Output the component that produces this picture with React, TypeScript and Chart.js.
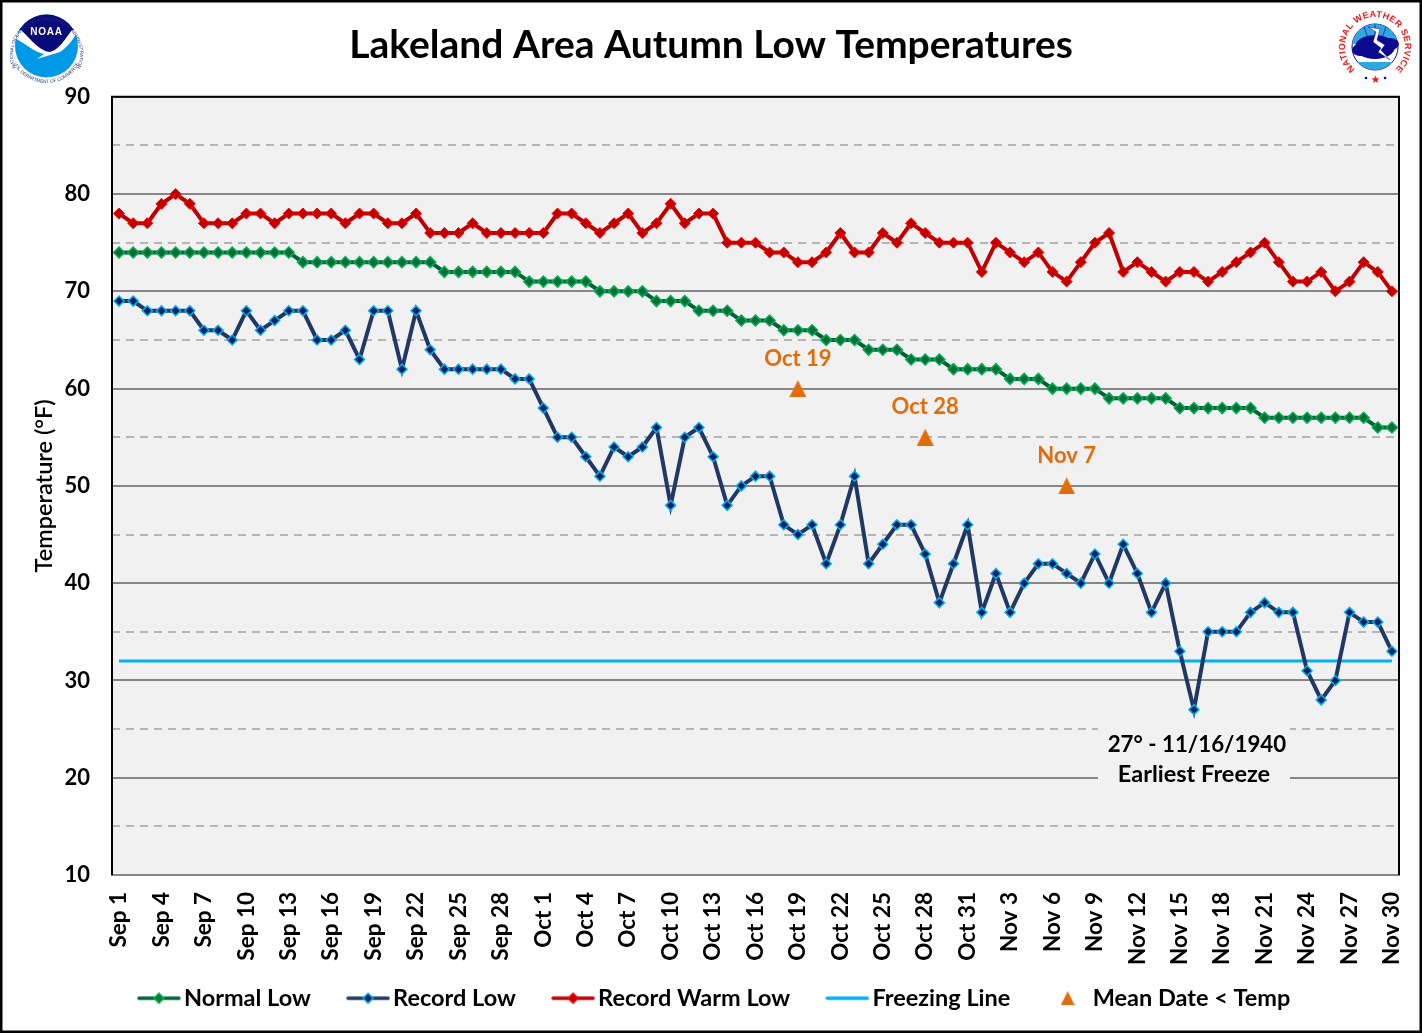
import React, { useEffect, useRef } from "react";
import { Chart, registerables } from "chart.js";

Chart.register(...registerables);

const FONT = "Lato";

const days = [
  "Sep 1", "Sep 2", "Sep 3", "Sep 4", "Sep 5", "Sep 6", "Sep 7", "Sep 8", "Sep 9", "Sep 10",
  "Sep 11", "Sep 12", "Sep 13", "Sep 14", "Sep 15", "Sep 16", "Sep 17", "Sep 18", "Sep 19", "Sep 20",
  "Sep 21", "Sep 22", "Sep 23", "Sep 24", "Sep 25", "Sep 26", "Sep 27", "Sep 28", "Sep 29", "Sep 30",
  "Oct 1", "Oct 2", "Oct 3", "Oct 4", "Oct 5", "Oct 6", "Oct 7", "Oct 8", "Oct 9", "Oct 10",
  "Oct 11", "Oct 12", "Oct 13", "Oct 14", "Oct 15", "Oct 16", "Oct 17", "Oct 18", "Oct 19", "Oct 20",
  "Oct 21", "Oct 22", "Oct 23", "Oct 24", "Oct 25", "Oct 26", "Oct 27", "Oct 28", "Oct 29", "Oct 30", "Oct 31",
  "Nov 1", "Nov 2", "Nov 3", "Nov 4", "Nov 5", "Nov 6", "Nov 7", "Nov 8", "Nov 9", "Nov 10",
  "Nov 11", "Nov 12", "Nov 13", "Nov 14", "Nov 15", "Nov 16", "Nov 17", "Nov 18", "Nov 19", "Nov 20",
  "Nov 21", "Nov 22", "Nov 23", "Nov 24", "Nov 25", "Nov 26", "Nov 27", "Nov 28", "Nov 29", "Nov 30",
];

const normalLow = [
  74, 74, 74, 74, 74, 74, 74, 74, 74, 74, 74, 74, 74,
  73, 73, 73, 73, 73, 73, 73, 73, 73, 73,
  72, 72, 72, 72, 72, 72,
  71, 71, 71, 71, 71,
  70, 70, 70, 70,
  69, 69, 69, 68, 68, 68, 67, 67, 67, 66, 66, 66,
  65, 65, 65, 64, 64, 64, 63, 63, 63,
  62, 62, 62, 62, 61, 61, 61,
  60, 60, 60, 60, 59, 59, 59, 59, 59,
  58, 58, 58, 58, 58, 58,
  57, 57, 57, 57, 57, 57, 57, 57, 56, 56,
];

const recordLow = [
  69, 69, 68, 68, 68, 68, 66, 66, 65, 68,
  66, 67, 68, 68, 65, 65, 66, 63, 68, 68,
  62, 68, 64, 62, 62, 62, 62, 62, 61, 61,
  58, 55, 55, 53, 51, 54, 53, 54, 56, 48,
  55, 56, 53, 48, 50, 51, 51, 46, 45, 46,
  42, 46, 51, 42, 44, 46, 46, 43, 38, 42, 46,
  37, 41, 37, 40, 42, 42, 41, 40, 43, 40,
  44, 41, 37, 40, 33, 27, 35, 35, 35, 37,
  38, 37, 37, 31, 28, 30, 37, 36, 36, 33,
];

const recordWarmLow = [
  78, 77, 77, 79, 80, 79, 77, 77, 77, 78,
  78, 77, 78, 78, 78, 78, 77, 78, 78, 77,
  77, 78, 76, 76, 76, 77, 76, 76, 76, 76,
  76, 78, 78, 77, 76, 77, 78, 76, 77, 79,
  77, 78, 78, 75, 75, 75, 74, 74, 73, 73,
  74, 76, 74, 74, 76, 75, 77, 76, 75, 75, 75,
  72, 75, 74, 73, 74, 72, 71, 73, 75, 76,
  72, 73, 72, 71, 72, 72, 71, 72, 73, 74,
  75, 73, 71, 71, 72, 70, 71, 73, 72, 70,
];

const freezingLine = days.map(() => 32);

// mean date the low drops under a temperature
const meanDates = ["Oct 19", "Oct 28", "Nov 7"];
const meanTemps = [60, 55, 50];

const freezeNote = ["27° - 11/16/1940", "Earliest Freeze"];
const freezeDay = "Nov 16";

const GREEN = "#006437";
const NAVY = "#1f3864";
const RED = "#c00000";
const CYAN = "#00b0f0";
const ORANGE = "#e36c0a";

function legendMarker(line: string, fill?: string, edge?: string) {
  const c = document.createElement("canvas");
  c.width = 44;
  c.height = 14;
  const g = c.getContext("2d")!;
  g.strokeStyle = line;
  g.lineWidth = 3.5;
  g.lineCap = "round";
  g.beginPath();
  g.moveTo(2, 7);
  g.lineTo(42, 7);
  g.stroke();
  if (fill) {
    g.fillStyle = fill;
    g.strokeStyle = edge || fill;
    g.lineWidth = 1.5;
    g.beginPath();
    g.moveTo(22, 2);
    g.lineTo(27, 7);
    g.lineTo(22, 12);
    g.lineTo(17, 7);
    g.closePath();
    g.fill();
    g.stroke();
  }
  return c;
}

function triangleMarker(size: number) {
  const c = document.createElement("canvas");
  c.width = size;
  c.height = size;
  const g = c.getContext("2d")!;
  g.fillStyle = ORANGE;
  g.beginPath();
  g.moveTo(size / 2, 0);
  g.lineTo(size, size);
  g.lineTo(0, size);
  g.closePath();
  g.fill();
  return c;
}

const plotDecor = {
  id: "plotDecor",
  afterLayout(chart: any) {
    // legend sits a little right of the title's centre
    chart.legend.left += 7;
    chart.legend.right += 7;
  },
  beforeDraw(chart: any) {
    const { ctx, chartArea: a } = chart;
    ctx.save();
    ctx.fillStyle = "#f1f1f1";
    ctx.fillRect(a.left, a.top, a.right - a.left, a.bottom - a.top);
    ctx.restore();
  },
  beforeDatasetsDraw(chart: any) {
    // the note sits on a patch that hides the grid behind it
    const { ctx, scales } = chart;
    const cx = scales.x.getPixelForValue(days.indexOf(freezeDay));
    ctx.save();
    ctx.fillStyle = "#f1f1f1";
    ctx.fillRect(cx - 96, scales.y.getPixelForValue(25.6), 192, scales.y.getPixelForValue(19) - scales.y.getPixelForValue(25.6));
    ctx.restore();
  },
  afterDatasetsDraw(chart: any) {
    const { ctx, chartArea: a, scales } = chart;
    ctx.save();
    ctx.textAlign = "center";
    ctx.textBaseline = "middle";

    ctx.fillStyle = ORANGE;
    ctx.font = `bold 22px ${FONT}`;
    meanDates.forEach((d, i) => {
      const x = scales.x.getPixelForValue(days.indexOf(d));
      ctx.fillText(d, x, scales.y.getPixelForValue(meanTemps[i]) - 30);
    });

    ctx.fillStyle = "#000";
    const cx = scales.x.getPixelForValue(days.indexOf(freezeDay));
    ctx.font = `bold 22.3px ${FONT}`;
    ctx.fillText(freezeNote[0], cx + 3, scales.y.getPixelForValue(23.4));
    ctx.font = `bold 23.5px ${FONT}`;
    ctx.fillText(freezeNote[1], cx, scales.y.getPixelForValue(20.3));

    // plot frame: black on three sides, the bottom stays axis grey
    ctx.strokeStyle = "#000";
    ctx.lineWidth = 2;
    ctx.beginPath();
    ctx.moveTo(a.left, a.bottom);
    ctx.lineTo(a.left, a.top);
    ctx.lineTo(a.right, a.top);
    ctx.lineTo(a.right, a.bottom);
    ctx.stroke();
    ctx.restore();
  },
  afterDraw(chart: any) {
    const { ctx, width, height } = chart;
    ctx.save();
    ctx.strokeStyle = "#000";
    ctx.lineWidth = 3;
    ctx.strokeRect(1, 1, width - 2, height - 2);
    ctx.restore();
  },
};

const NoaaLogo = () => (
  <svg width="94" height="94" viewBox="0 0 94 94" style={{ position: "absolute", left: 0, top: 0 }}>
    <defs>
      <clipPath id="noaaClip">
        <circle cx="46.5" cy="46" r="31.5" />
      </clipPath>
      <path id="noaaTop" d="M 17 70 A 33.5 33.5 0 1 1 76 70" fill="none" />
      <path id="noaaBottom" d="M 13.1 62 A 37 37 0 0 0 79.9 62" fill="none" />
    </defs>
    <circle cx="46.5" cy="46" r="31.5" fill="#0099e8" />
    <g clipPath="url(#noaaClip)">
      <path d="M 10 10 L 84 10 L 84 28 L 72 30 C 66 38 58 51 50 52 C 41 52 30 39 21 30 L 10 28 Z" fill="#0a0a78" />
      <path d="M 14 38 L 21 30 C 30 39 41 52 50 52 C 58 51 66 38 72 30 L 79 30 C 73 40 66 48 60 52 L 37 59 L 44 54 C 34 52 24 42 14 38 Z" fill="#fff" />
    </g>
    <text x="46.5" y="35" textAnchor="middle" fill="#fff" fontFamily="Liberation Sans" fontWeight="bold" fontSize="10" letterSpacing="0.8">NOAA</text>
    <text fontFamily="Liberation Sans" fontSize="4.7" fill="#1c2f80">
      <textPath href="#noaaTop" startOffset="50%" textAnchor="middle">NATIONAL OCEANIC AND ATMOSPHERIC ADMINISTRATION</textPath>
    </text>
    <text fontFamily="Liberation Sans" fontSize="4.7" fill="#1c2f80">
      <textPath href="#noaaBottom" startOffset="50%" textAnchor="middle">U.S. DEPARTMENT OF COMMERCE</textPath>
    </text>
  </svg>
);

const NwsLogo = () => (
  <svg width="94" height="94" viewBox="0 0 94 94" style={{ position: "absolute", left: 1328, top: 0 }}>
    <defs>
      <clipPath id="nwsClip">
        <circle cx="47" cy="47" r="23" />
      </clipPath>
      <path id="nwsRing" d="M 32 73 A 30 30 0 1 1 62 73" fill="none" />
    </defs>
    <circle cx="47" cy="47" r="23" fill="#fff" stroke="#0a0a90" strokeWidth="1" />
    <g clipPath="url(#nwsClip)">
      <rect x="20" y="22" width="54" height="22" fill="#2fa8e0" />
      <rect x="20" y="62" width="54" height="12" fill="#2fa8e0" />
      <path d="M 47 24 L 47 36 M 36 27 L 40 38 M 58 27 L 54 38" stroke="#0a0a90" strokeWidth="0.7" />
    </g>
    <ellipse cx="47" cy="47" rx="20" ry="12" fill="#0a0a90" />
    <ellipse cx="32" cy="50" rx="8" ry="6" fill="#0a0a90" />
    <ellipse cx="62" cy="44" rx="9" ry="6" fill="#0a0a90" />
    <path d="M 40 27 L 52 29 L 49 40 L 57 45 L 53 50 L 62 60 L 50 52 L 53 48 L 45 42 L 48 32 Z" fill="#fff" stroke="#0a0a90" strokeWidth="0.5" />
    <text fontFamily="Liberation Sans" fontWeight="bold" fontSize="9" fill="#f01818" letterSpacing="0.4">
      <textPath href="#nwsRing" startOffset="50%" textAnchor="middle">NATIONAL WEATHER SERVICE</textPath>
    </text>
    <circle cx="38" cy="78" r="1.3" fill="#0a0a90" />
    <circle cx="57" cy="78" r="1.3" fill="#0a0a90" />
    <path d="M 47.5 75.5 L 48.6 78.3 L 51.2 78.5 L 49.2 80.2 L 50 83 L 47.5 81.3 L 45 83 L 45.8 80.2 L 43.8 78.5 L 46.4 78.3 Z" fill="#f01818" />
  </svg>
);

const App: React.FC = () => {
  const chartRef = useRef<HTMLCanvasElement | null>(null);

  useEffect(() => {
    if (!chartRef.current) return;
    const ctx = chartRef.current.getContext("2d");
    if (!ctx) return;

    document.body.style.margin = "0";

    const markers = [
      legendMarker(GREEN, "#0b7a3c", "#00b050"),
      legendMarker(NAVY, "#002060", CYAN),
      legendMarker(RED, RED, "#ff0000"),
      legendMarker(CYAN),
      triangleMarker(14),
    ];

    const myChart = new Chart(ctx, {
      type: "line",
      data: {
        labels: days,
        datasets: [
          {
            label: "Normal Low",
            data: normalLow,
            borderColor: GREEN,
            borderWidth: 4,
            pointStyle: "rectRot",
            pointRadius: 5.5,
            pointBackgroundColor: "#0b6b3a",
            pointBorderColor: "#00b050",
            pointBorderWidth: 1.5,
            tension: 0,
          },
          {
            label: "Record Low",
            data: recordLow,
            borderColor: NAVY,
            borderWidth: 4,
            pointStyle: "rectRot",
            pointRadius: 5,
            pointBackgroundColor: "#002060",
            pointBorderColor: CYAN,
            pointBorderWidth: 1.5,
            tension: 0,
          },
          {
            label: "Record Warm Low",
            data: recordWarmLow,
            borderColor: RED,
            borderWidth: 4,
            pointStyle: "rectRot",
            pointRadius: 5.5,
            pointBackgroundColor: RED,
            pointBorderColor: "#ff0000",
            pointBorderWidth: 1,
            tension: 0,
          },
          {
            label: "Freezing Line",
            data: freezingLine,
            borderColor: CYAN,
            borderWidth: 3,
            pointRadius: 0,
            tension: 0,
          },
          {
            label: "Mean Date < Temp",
            data: days.map((d) => {
              const i = meanDates.indexOf(d);
              return i >= 0 ? meanTemps[i] : null;
            }),
            showLine: false,
            pointStyle: triangleMarker(17),
          },
        ],
      },
      options: {
        responsive: false,
        animation: false,
        devicePixelRatio: 1,
        layout: { padding: { left: 23, right: 23, top: 0, bottom: 13 } },
        plugins: {
          tooltip: { enabled: false },
          title: {
            display: true,
            text: "Lakeland Area Autumn Low Temperatures",
            color: "#000",
            font: { family: FONT, size: 39, weight: "bold" },
            padding: { top: 22, bottom: 28 },
          },
          legend: {
            position: "bottom",
            labels: {
              usePointStyle: true,
              pointStyleWidth: 26.5,
              boxHeight: 14,
              padding: 44,
              color: "#000",
              font: { family: FONT, size: 23.5, weight: "bold" },
              generateLabels: (chart: any) =>
                chart.data.datasets.map((ds: any, i: number) => ({
                  text: ds.label,
                  fontColor: "#000",
                  pointStyle: markers[i],
                  datasetIndex: i,
                  lineWidth: 0,
                  hidden: false,
                })),
            },
          },
        },
        scales: {
          x: {
            offset: true,
            grid: { display: false, drawTicks: false },
            border: { color: "#868686", width: 2 },
            ticks: {
              autoSkip: false,
              minRotation: 90,
              maxRotation: 90,
              padding: 17,
              color: "#000",
              font: { family: FONT, size: 22.5, weight: "bold" },
              callback: (_v: any, i: number) => (i % 3 === 0 ? days[i] : ""),
            },
            afterFit: (s: any) => {
              // legend padding eats the room under the axis, so the labels
              // run past the axis box: no clip, no extra side margin
              s.height = 67.5;
              s.paddingLeft = 0;
              s.paddingRight = 0;
              s._computeLabelArea = () => null;
            },
          },
          y: {
            min: 10,
            max: 90,
            grid: {
              drawTicks: false,
              color: (c: any) => (c.tick.value % 10 === 0 ? "#868686" : "#b5b5b5"),
              lineWidth: 2,
            },
            border: {
              display: false,
              dash: (c: any) => (c.tick.value % 10 === 0 ? [] : [8, 6]),
            },
            title: {
              display: true,
              text: "Temperature (°F)",
              color: "#000",
              font: { family: FONT, size: 23.5, weight: 600 },
              padding: { top: 7, bottom: 0 },
            },
            ticks: {
              stepSize: 5,
              autoSkip: false,
              padding: 22,
              color: "#000",
              font: { family: FONT, size: 22, weight: "bold" },
              callback: (v: any) => (v % 10 === 0 ? String(v) : ""),
            },
            afterFit: (s: any) => {
              s.width = 89;
            },
          },
        },
      },
      plugins: [plotDecor],
    } as any);

    return () => {
      myChart.destroy();
    };
  }, []);

  return (
    <div style={{ position: "absolute", left: 0, top: 0, width: 1422, height: 1033 }}>
      <canvas ref={chartRef} width={1422} height={1033} style={{ display: "block" }} />
      <NoaaLogo />
      <NwsLogo />
    </div>
  );
};

export default App;
